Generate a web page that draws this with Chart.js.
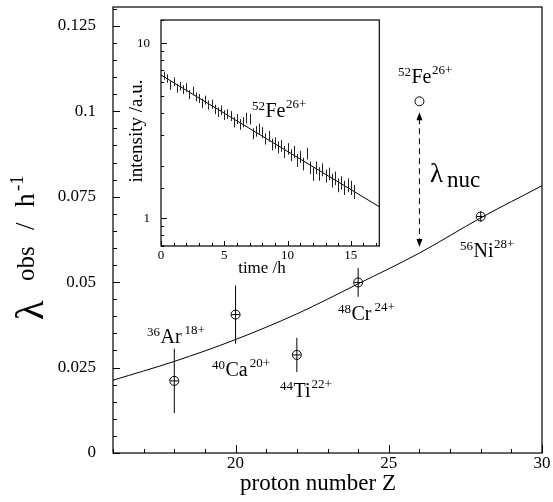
<!DOCTYPE html>
<html lang="en">
<head>
<meta charset="UTF-8">
<title>lambda obs vs Z</title>
<style>
    body {
        margin: 0;
        background: #fff;
    }
    #wrap {
        position: relative;
        width: 553px;
        height: 502px;
    }
    #mainChart {
        position: absolute;
        left: 0;
        top: 0;
    }
    #insetChart {
        position: absolute;
        left: 118px;
        top: 10px;
    }
</style>
</head>
<body>
<div id="wrap">
    <canvas id="mainChart" width="553" height="502"></canvas>
    <canvas id="insetChart" width="268" height="270"></canvas>
</div>

<script src="https://cdn.jsdelivr.net/npm/chart.js"></script>
<script>
    // main plot: decay constants vs proton number
    const zMeas = [18, 20, 22, 24, 28];
    const lamMeas = [0.0211, 0.0405, 0.0287, 0.0499, 0.0692];
    const lamErr = [0.0094, 0.0085, 0.0050, 0.0042, 0.0015];
    const zFe = [26];
    const lamFe = [0.1029];
    const curveZ = [16, 18, 20, 22, 24, 26, 28, 30];
    const curveLam = [0.0213, 0.0268, 0.0332, 0.0407, 0.0495, 0.0585, 0.0688, 0.0782];
    const nucArrowZ = 26;
    const nucArrowLam = [0.0603, 0.0997];
    const yTickLabels = ['0', '0.025', '0.05', '0.075', '0.1', '0.125'];

    // inset: 52Fe26+ intensity vs time
    const inTime = [0.25, 0.5, 0.75, 1.0, 1.25, 1.5, 1.75, 2.0,
        2.25, 2.5, 2.75, 3.0, 3.25, 3.5, 3.75, 4.0,
        4.25, 4.5, 4.75, 5.0, 5.25, 5.5, 5.75, 6.0,
        6.25, 6.5, 6.75, 7.0, 7.25, 7.5, 7.75, 8.0,
        8.25, 8.5, 8.75, 9.0, 9.25, 9.5, 9.75, 10.0,
        10.25, 10.5, 10.75, 11.0, 11.25, 11.5, 11.75, 12.0,
        12.25, 12.5, 12.75, 13.0, 13.25, 13.5, 13.75, 14.0,
        14.25, 14.5, 14.75, 15.0, 15.25];
    const inValue = [6.55, 6.30, 5.75, 6.05, 5.55, 5.70, 5.45, 5.60,
        5.10, 5.35, 4.95, 4.85, 4.55, 4.75, 4.45, 4.50,
        4.20, 4.05, 4.15, 3.90, 3.95, 3.85, 3.55, 3.70,
        3.45, 3.55, 3.75, 3.70, 3.05, 3.15, 3.25, 3.10,
        2.85, 2.95, 2.65, 2.70, 2.55, 2.60, 2.40, 2.50,
        2.30, 2.40, 2.15, 2.25, 2.05, 2.35, 1.95, 1.80,
        1.95, 1.80, 1.90, 1.75, 1.80, 1.65, 1.70, 1.55,
        1.60, 1.50, 1.55, 1.50, 1.42];
    const inErr = [0.35, 0.35, 0.33, 0.34, 0.32, 0.33, 0.31, 0.32,
        0.30, 0.31, 0.29, 0.29, 0.28, 0.28, 0.27, 0.27,
        0.26, 0.26, 0.26, 0.25, 0.25, 0.25, 0.24, 0.24,
        0.24, 0.24, 0.26, 0.26, 0.22, 0.22, 0.23, 0.22,
        0.21, 0.21, 0.20, 0.20, 0.20, 0.20, 0.19, 0.19,
        0.18, 0.19, 0.18, 0.18, 0.17, 0.18, 0.16, 0.16,
        0.16, 0.16, 0.16, 0.15, 0.15, 0.15, 0.15, 0.14,
        0.14, 0.14, 0.14, 0.14, 0.13];
    const fitTime = [0, 17.25];
    const fitValue = [6.59, 1.165];

    const SERIF = '"Liberation Serif", "Times New Roman", serif';

    function toXY(xs, ys) {
        return xs.map((x, i) => ({x: x, y: ys[i]}));
    }

    // no extra label padding, so the chart area lands where we want it
    function fixHeight(h) {
        return s => { s.height = h; s.paddingLeft = 0; s.paddingRight = 0; };
    }
    function fixWidth(w) {
        return s => { s.width = w; s.paddingTop = 0; s.paddingBottom = 0; };
    }

    // isotope label like 36Ar18+ ; x = left edge, y = baseline of symbol
    function drawIso(ctx, x, y, mass, sym, charge, gap) {
        ctx.textAlign = 'left';
        ctx.textBaseline = 'alphabetic';
        ctx.fillStyle = '#000';
        ctx.font = '13px ' + SERIF;
        ctx.fillText(mass, x, y - 7);
        x += ctx.measureText(mass).width + 0.5;
        ctx.font = '20px ' + SERIF;
        ctx.fillText(sym, x, y);
        x += ctx.measureText(sym).width + (gap || 0.5);
        ctx.font = '13px ' + SERIF;
        ctx.fillText(charge, x, y - 9);
    }

    function drawInnerTicks(ctx, xs, ys, isMajorX, isMajorY, lens) {
        ctx.beginPath();
        xs.ticks.forEach(t => {
            const px = Math.round(xs.getPixelForValue(t.value)) + 0.5;
            const len = isMajorX(t.value) ? lens[0] : lens[1];
            ctx.moveTo(px, ys.bottom);
            ctx.lineTo(px, ys.bottom - len);
        });
        ys.ticks.forEach(t => {
            const py = Math.round(ys.getPixelForValue(t.value)) + 0.5;
            const len = isMajorY(t.value) ? lens[2] : lens[3];
            ctx.moveTo(xs.left, py);
            ctx.lineTo(xs.left + len, py);
        });
        ctx.stroke();
    }

    function arrowHead(ctx, x, y, dir) {
        ctx.beginPath();
        ctx.moveTo(x, y);
        ctx.lineTo(x - 3, y - dir * 8);
        ctx.lineTo(x + 3, y - dir * 8);
        ctx.closePath();
        ctx.fill();
    }

    const mainDecor = {
        id: 'mainDecor',
        afterDatasetsDraw(chart) {
            const ctx = chart.ctx;
            const xs = chart.scales.x, ys = chart.scales.y;
            const a = chart.chartArea;
            ctx.save();
            ctx.strokeStyle = '#000';
            ctx.fillStyle = '#000';
            ctx.lineWidth = 1.2;
            ctx.strokeRect(a.left, a.top, a.right - a.left, a.bottom - a.top);
            ctx.lineWidth = 1;
            drawInnerTicks(ctx, xs, ys,
                v => Math.abs(v % 5) < 1e-6,
                v => Math.round(v * 1000) % 25 === 0,
                [8, 4, 7, 4]);

            // error bars with a small cross inside the circle
            zMeas.forEach((z, i) => {
                const px = xs.getPixelForValue(z);
                const hi = ys.getPixelForValue(lamMeas[i] + lamErr[i]);
                const lo = ys.getPixelForValue(lamMeas[i] - lamErr[i]);
                const py = ys.getPixelForValue(lamMeas[i]);
                ctx.beginPath();
                ctx.moveTo(px, hi);
                ctx.lineTo(px, lo);
                ctx.moveTo(px - 4, py);
                ctx.lineTo(px + 4, py);
                ctx.stroke();
            });

            // dashed lambda_nuc arrow
            const ax = xs.getPixelForValue(nucArrowZ);
            const aLo = ys.getPixelForValue(nucArrowLam[0]);
            const aHi = ys.getPixelForValue(nucArrowLam[1]);
            ctx.setLineDash([6, 4]);
            ctx.beginPath();
            ctx.moveTo(ax, aHi + 6);
            ctx.lineTo(ax, aLo - 6);
            ctx.stroke();
            ctx.setLineDash([]);
            arrowHead(ctx, ax, aHi, -1);
            arrowHead(ctx, ax, aLo, 1);

            // isotope labels
            drawIso(ctx, 147, 343, '36', 'Ar', '18+', 3);
            drawIso(ctx, 212, 376, '40', 'Ca', '20+', 2);
            drawIso(ctx, 280, 397, '44', 'Ti', '22+', 1);
            drawIso(ctx, 338, 320, '48', 'Cr', '24+', 3);
            drawIso(ctx, 398, 83, '52', 'Fe', '26+', 0.5);
            drawIso(ctx, 460, 257, '56', 'Ni', '28+', 0.5);

            ctx.font = '27px ' + SERIF;
            ctx.fillText('\u03bb', 430, 182);
            ctx.font = '23px ' + SERIF;
            ctx.fillText('nuc', 447, 187);

            // x title
            ctx.textAlign = 'center';
            ctx.font = '23px ' + SERIF;
            ctx.fillText('proton number Z', 318, 490);

            // y title, rotated
            ctx.save();
            ctx.translate(42, 320);
            ctx.rotate(-Math.PI / 2);
            ctx.textAlign = 'left';
            ctx.font = '40px ' + SERIF;
            ctx.fillText('\u03bb', 0, 1);
            ctx.font = '25px ' + SERIF;
            ctx.fillText('obs', 39, -8);
            ctx.font = '27px ' + SERIF;
            ctx.fillText('/', 90, -8);
            ctx.fillText('h', 113, -8);
            ctx.font = '19px ' + SERIF;
            ctx.fillText('-1', 129, -19);
            ctx.restore();
            ctx.restore();
        }
    };

    const insetDecor = {
        id: 'insetDecor',
        afterDatasetsDraw(chart) {
            const ctx = chart.ctx;
            const xs = chart.scales.x, ys = chart.scales.y;
            const a = chart.chartArea;
            ctx.save();
            ctx.strokeStyle = '#000';
            ctx.fillStyle = '#000';
            ctx.lineWidth = 1.2;
            ctx.strokeRect(a.left, a.top, a.right - a.left, a.bottom - a.top);
            ctx.lineWidth = 1;
            drawInnerTicks(ctx, xs, ys,
                v => Math.abs(v % 5) < 1e-6,
                v => Math.abs(Math.log10(v) - Math.round(Math.log10(v))) < 1e-6,
                [5, 3, 6, 3]);

            ctx.strokeStyle = '#222';
            ctx.beginPath();
            inTime.forEach((t, i) => {
                const px = Math.round(xs.getPixelForValue(t)) + 0.5;
                ctx.moveTo(px, ys.getPixelForValue(inValue[i] + inErr[i]));
                ctx.lineTo(px, ys.getPixelForValue(inValue[i] - inErr[i]));
            });
            ctx.stroke();

            drawIso(ctx, 134, 107, '52', 'Fe', '26+', 0.5);

            ctx.textAlign = 'center';
            ctx.font = '17px ' + SERIF;
            ctx.fillText('time /h', 144, 263);
            ctx.save();
            ctx.translate(24, 121);
            ctx.rotate(-Math.PI / 2);
            ctx.font = '19px ' + SERIF;
            ctx.fillText('intensity /a.u.', 0, 0);
            ctx.restore();
            ctx.restore();
        }
    };

    const noGrid = {display: false, drawTicks: false, tickLength: 0};

    const mainChart = new Chart(document.getElementById('mainChart').getContext('2d'), {
        type: 'scatter',
        data: {
            datasets: [{
                label: 'fit',
                data: toXY(curveZ, curveLam),
                showLine: true,
                cubicInterpolationMode: 'monotone',
                borderColor: '#000',
                borderWidth: 1,
                pointRadius: 0
            }, {
                label: 'measured',
                data: toXY(zMeas, lamMeas),
                pointStyle: 'circle',
                pointRadius: 4.5,
                borderColor: '#000',
                backgroundColor: 'rgba(0,0,0,0)',
                borderWidth: 1
            }, {
                label: '52Fe26+',
                data: toXY(zFe, lamFe),
                pointStyle: 'circle',
                pointRadius: 4.5,
                borderColor: '#000',
                backgroundColor: '#fff',
                borderWidth: 1
            }]
        },
        options: {
            responsive: false,
            animation: false,
            layout: {padding: {top: 7, right: 11, left: 0, bottom: 0}},
            plugins: {legend: {display: false}, tooltip: {enabled: false}},
            scales: {
                x: {
                    type: 'linear',
                    min: 16,
                    max: 30,
                    grid: noGrid,
                    border: {display: false},
                    ticks: {
                        stepSize: 1,
                        autoSkip: false,
                        maxRotation: 0,
                        padding: 0,
                        color: '#000',
                        font: {family: SERIF, size: 17},
                        callback: v => (v % 5 === 0 ? String(v) : '')
                    },
                    afterFit: fixHeight(49)
                },
                y: {
                    min: 0,
                    max: 0.1305,
                    grid: noGrid,
                    border: {display: false},
                    ticks: {
                        stepSize: 0.005,
                        includeBounds: false,
                        autoSkip: false,
                        padding: 17,
                        color: '#000',
                        font: {family: SERIF, size: 17},
                        callback: v => {
                            const k = Math.round(v * 1000);
                            return k % 25 === 0 ? yTickLabels[k / 25] : '';
                        }
                    },
                    afterFit: fixWidth(113)
                }
            }
        },
        plugins: [mainDecor]
    });

    const insetChart = new Chart(document.getElementById('insetChart').getContext('2d'), {
        type: 'scatter',
        data: {
            datasets: [{
                label: 'fit',
                data: toXY(fitTime, fitValue),
                showLine: true,
                borderColor: '#000',
                borderWidth: 1,
                pointRadius: 0
            }, {
                label: 'intensity',
                data: toXY(inTime, inValue),
                pointRadius: 0
            }]
        },
        options: {
            responsive: false,
            animation: false,
            layout: {padding: {top: 10, right: 6.7, left: 0, bottom: 0}},
            plugins: {legend: {display: false}, tooltip: {enabled: false}},
            scales: {
                x: {
                    type: 'linear',
                    min: 0,
                    max: 17.25,
                    grid: noGrid,
                    border: {display: false},
                    ticks: {
                        stepSize: 1,
                        includeBounds: false,
                        autoSkip: false,
                        maxRotation: 0,
                        padding: 2,
                        color: '#000',
                        font: {family: SERIF, size: 13},
                        callback: v => (v % 5 === 0 ? String(v) : '')
                    },
                    afterFit: fixHeight(34)
                },
                y: {
                    type: 'logarithmic',
                    min: 0.695,
                    max: 13.6,
                    grid: noGrid,
                    border: {display: false},
                    ticks: {
                        autoSkip: false,
                        padding: 11,
                        color: '#000',
                        font: {family: SERIF, size: 13},
                        callback: v => (v === 1 || v === 10 ? String(v) : '')
                    },
                    afterFit: fixWidth(43)
                }
            }
        },
        plugins: [insetDecor]
    });
</script>
</body>
</html>
